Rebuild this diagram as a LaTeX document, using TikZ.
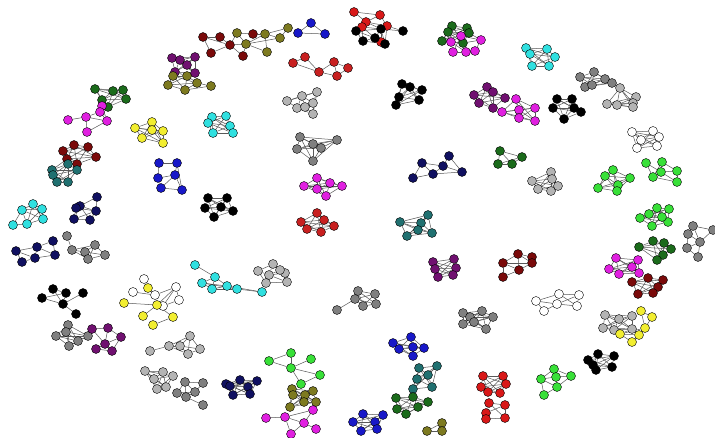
\documentclass[tikz,border=0pt]{standalone}
\usetikzlibrary{backgrounds}
\definecolor{cdr}{HTML}{7A0A0A}
\definecolor{col}{HTML}{7D7A20}
\definecolor{cpu}{HTML}{701070}
\definecolor{cmg}{HTML}{E020E0}
\definecolor{cdg}{HTML}{1B6B1B}
\definecolor{cye}{HTML}{F2EE30}
\definecolor{ccy}{HTML}{30E0E0}
\definecolor{cbl}{HTML}{1818C8}
\definecolor{cnv}{HTML}{101060}
\definecolor{crd}{HTML}{D81818}
\definecolor{cfb}{HTML}{C82020}
\definecolor{ctl}{HTML}{207070}
\definecolor{cgy}{HTML}{808080}
\definecolor{clg}{HTML}{B4B4B4}
\definecolor{clm}{HTML}{38E038}
\tikzset{vtx/.style={circle,draw=black,line width=0.4bp,minimum size=9bp,inner sep=0pt},
  edge/.style={draw=black!65,line width=0.5bp}}
\newcommand\clus[4][1]{\foreach[count=\k from #1] \a/\b in {#4}{\node[vtx,fill=#3] (#2-\k) at (\a,\b) {};}}
\newcommand\Kall[3]{\foreach \i in {#2,...,#3}{\foreach \j in {#2,...,#3}{\ifnum\i<\j\relax\draw[edge] (#1-\i) -- (#1-\j);\fi}}}
\newcommand\Ed[2]{\foreach \i/\j in {#2}{\draw[edge] (#1-\i) -- (#1-\j);}}
\begin{document}
\begin{tikzpicture}[x=1bp,y=-1bp]
\useasboundingbox (0,0) rectangle (715,438);
% nodes
\clus{a}{cdr}{203/37,220/37,230/45,211/53,253/34,243/56}
\clus[7]{a}{col}{237/33,246/44,265/34,267/52,280/38,288/28}
\clus{b}{cbl}{311/23,298/33,325/34}
\clus{c}{crd}{354/12,380/15,366/22,362/27,387/26,381/42}
\clus[7]{c}{black}{356/31,381/29,375/38,363/41,385/44,403/31}
\clus{d}{cdg}{452/26,467/28,448/32,442/41,463/43,469/33}
\clus[7]{d}{cmg}{451/42,461/36,453/52,466/52,481/40,475/51}
\clus{e}{ccy}{526/48,547/49,530/54,555/57,532/66,549/66}
\clus{f}{cpu}{172/58,180/60,195/57,187/65,175/72,195/73}
\clus[7]{f}{col}{173/76,187/76,197/83,168/85,185/90,211/86}
\clus{g}{cfb}{293/63,305/57,319/72,334/62,348/68,337/76}
\clus{h}{cgy}{580/77,594/72,605/79,612/83,585/87,592/85}
\clus{i}{cdg}{95/89,113/91,123/90,126/99,102/100,108/107}
\clus[7]{i}{cmg}{102/106,100/112,86/117,107/121,68/120,87/132}
\clus{j}{cye}{152/122,135/128,152/130,163/131,142/138,163/143}
\clus{k}{ccy}{212/117,226/116,208/123,230/126,213/133,233/133}
\clus{l}{clg}{287/101,302/96,317/92,313/103,297/108,313/114,305/107}
\clus{m}{black}{402/84,410/87,422/90,399/97,419/100,396/105}
\clus{n}{cpu}{487/87,493/92,474/95,505/98,479/103,493/108}
\clus{o}{cmg}{516/99,535/108,502/112,519/110,519/118,535/121}
\clus{p}{black}{557/99,572/99,553/108,574/108,581/112,564/119}
\clus{q}{clg}{620/88,636/97,633/103,607/104,617/105,633/107}
\clus{r}{white}{632/132,653/131,659/137,641/140,657/146,637/148}
\clus{s}{cdr}{63/151,74/145,88/147,96/157,67/159,77/164}
\clus[7]{s}{ctl}{52/170,53/175,68/164,77/170,57/182,68/182}
\clus{t}{cgy}{300/137,313/144,337/140,321/148,297/149,313/161}
\clus{u}{cbl}{159/163,177/163,175/175,158/178,161/188,182/190}
\clus{v}{black}{208/198,227/198,205/208,221/207,233/211,214/217}
\clus{w}{ccy}{33/204,22/210,42/209,43/219,27/224,13/225}
\clus{x}{cnv}{97/197,80/206,76/208,96/211,74/219,90/220}
\clus{y}{cnv}{16/251,37/247,53/241,55/255,35/258,22/262}
\clus{z}{cgy}{67/236,72/250,85/252,95/245,88/259,105/255}
\clus{aa}{ccy}{195/265,215/277,202/283,227/286,212/289,237/289,262/292}
\clus{ab}{cnv}{422/163,449/156,443/166,462/172,433/174,413/178}
\clus{ac}{cmg}{317/178,304/186,330/183,342/186,317/189,326/196}
\clus{ad}{cfb}{317/213,301/222,324/220,334/226,307/229,321/232}
\clus{ae}{ctl}{428/215,400/222,421/223,418/230,432/233,407/236}
\clus{af}{cpu}{433/262,454/259,435/269,456/268,438/277,453/275}
\clus{ag}{clg}{273/264,258/271,269/275,285/273,266/283,287/282,280/270}
\clus{ah}{cdg}{500/151,522/157,498/164,512/164}
\clus{ai}{clg}{551/172,532/181,552/179,538/189,551/191,558/186}
\clus{aj}{clm}{613/170,605/176,630/178,618/185,598/188,617/191}
\clus{ak}{clm}{646/163,662/162,661/172,677/171,653/177,677/182}
\clus{al}{clm}{657/208,669/209,649/214,640/218,668/222,652/226,662/217}
\clus{am}{cgy}{693/226,713/230,688/234,700/242,687/248,698/257}
\clus{an}{cdg}{653/241,664/243,639/247,671/249,663/255,657/260}
\clus{ao}{cmg}{616/258,638/260,609/269,632/267,619/274,639/273}
\clus{ap}{cdr}{503/263,518/254,532/257,532/263,519/270,503/277}
\clus{aq}{cdr}{632/282,648/278,663/280,658/287,638/294,653/293}
\clus{ar}{black}{53/289,66/293,83/293,42/298,63/304,76/314}
\clus{as}{white}{144/279,133/292,155/295,176/287,179/300,163/306}
\clus[7]{as}{cye}{148/288,124/303,157/305,143/316,173/317,153/325}
\clus{at}{cgy}{68/325,66/332,56/336,78/341,88/336,69/346}
\clus{au}{cpu}{92/329,108/328,121/337,105/344,96/349,112/351}
\clus{av}{clg}{150/351,169/346,180/346,190/336,200/349,188/354}
\clus{aw}{clg}{145/371,163/372,173/376,154/379,157/389,166/387}
\clus{ax}{cgy}{185/382,203/383,177/393,195/392,186/397,203/405}
\clus{ay}{cnv}{226/384,240/380,257/381,248/387,230/386,233/395,250/394}
\clus{az}{cgy}{358/291,375/294,355/299,363/306,376/304,337/310}
\clus{ba}{cgy}{463/313,470/317,463/324,482/311,493/317,474/322,486/329}
\clus{bb}{cbl}{393/343,411/337,399/349,413/347,424/348,413/356}
\clus{bc}{clm}{291/353,269/361,311/359,291/368,320/375,301/384}
\clus{bd}{col}{292/389,313/391,293/395,305/395,316/402,304/402,290/407}
\clus{be}{cmg}{266/418,285/417,313/410,304/423,316/429,291/434}
\clus{bf}{ctl}{419/368,437/366,428/375,417/379,432/387,413/389}
\clus{bg}{cdg}{396/398,413/397,428/402,397/409,406/414,418/407}
\clus{bh}{cbl}{363/414,383/415,353/422,375/422,377/429,361/431}
\clus{bi}{col}{427/431,442/423,442/431}
\clus{bj}{white}{536/301,559/294,579/295,557/304,544/311,577/306}
\clus{bk}{clg}{605/315,619/319,632/316,603/328,614/330,632/329}
\clus{bl}{cye}{641/311,652/317,645/328,620/334,639/335,632/342}
\clus{bm}{black}{598/354,614/356,588/360,593/365,612/367,596/370}
\clus{bn}{clm}{554/369,541/379,556/377,571/376,557/387,544/395}
\clus{bo}{crd}{483/376,503/376,506/384,481/387,488/392,500/393}
\clus{bp}{crd}{489/403,505/405,486/413,505/418,486/419}
% edges
\begin{pgfonlayer}{background}
\fill[white] (0,0) rectangle (715,438);
\Ed{a}{1/2,1/3,1/4,4/3,2/3,3/7,3/8,3/6,7/5,7/8,5/9,8/9,8/10,9/10,9/11,9/12,11/12,8/11,6/8}
\Ed{b}{1/2,1/3,2/3}
\Ed{c}{1/2,1/3,2/3,3/4,3/5,4/7,4/8,3/8,4/9,4/10,7/10,7/9,8/9,8/11,9/10,9/11,10/11,9/6,6/11,8/12,5/12,5/11,2/5,7/8,6/8}
\Kall{d}{1}{6}\Kall{d}{7}{10}
\Ed{d}{8/11,11/12,10/12,5/11,6/11,5/7,5/8,4/7,3/8}
\Kall{e}{1}{6}
\Kall{f}{1}{6}\Kall{f}{7}{11}
\Ed{f}{11/12,9/12,5/7,6/8,5/8,6/9}
\Ed{g}{1/2,2/3,1/3,3/4,3/6,4/5,6/5,4/6}
\Kall{h}{1}{6}
\Kall{i}{1}{6}
\Ed{i}{6/7,5/7,7/8,8/9,7/10,8/10,9/11,9/12,12/10,9/10,5/8}
\Kall{j}{1}{6}
\Kall{k}{1}{6}
\Ed{l}{1/2,2/3,3/4,4/6,6/5,5/1,2/4,2/5,3/6,7/2,7/4,7/5,7/6,1/3}
\Kall{m}{1}{6}
\Kall{n}{1}{6}
\Kall{o}{1}{6}
\Kall{p}{1}{6}
\Kall{q}{1}{6}
\Kall{r}{1}{6}
\Kall{s}{1}{6}\Kall{s}{7}{12}
\Ed{s}{5/9,6/10,5/7}
\Kall{t}{1}{6}
\Ed{u}{1/2,1/4,2/3,3/4,3/5,3/6,5/6,2/6,4/5}
\Kall{v}{1}{6}
\Ed{w}{1/2,1/3,2/3,2/4,2/5,2/6,3/4,4/5,5/6,1/5,1/4,3/5}
\Ed{x}{1/2,1/4,2/3,2/4,2/5,3/5,4/5,4/6,5/6,2/6,3/4}
\Ed{y}{1/2,1/5,1/6,2/4,2/5,2/3,3/4,4/5,5/6}
\Ed{z}{1/2,2/3,2/4,3/4,3/5,4/5,4/6,5/6,2/5,3/6}
\Ed{aa}{1/2,2/3,2/4,3/4,3/5,4/5,4/6,5/6,6/7,2/5,3/6,4/7}
\Ed{ab}{1/6,1/5,1/3,3/5,2/3,2/4,3/4,4/5,5/6}
\Kall{ac}{1}{6}
\Kall{ad}{1}{6}
\Kall{ae}{1}{6}
\Kall{af}{1}{6}
\Ed{ag}{1/2,1/4,1/7,1/3,2/3,2/5,3/4,3/5,3/6,4/6,5/6,7/4,7/3,7/6}
\Kall{ah}{1}{4}
\Kall{ai}{1}{6}
\Kall{aj}{1}{6}
\Ed{ak}{1/3,2/3,2/4,3/4,3/5,3/6,4/6,5/6,2/5,1/5}
\Kall{al}{1}{7}
\Ed{am}{1/2,1/3,3/4,4/2,3/5,5/4,4/6,5/6,1/4}
\Kall{an}{1}{6}
\Kall{ao}{1}{6}
\Ed{ap}{1/2,1/4,1/5,1/6,2/3,2/4,2/5,3/4,4/5,5/6}
\Kall{aq}{1}{6}
\Ed{ar}{4/5,1/5,2/5,3/5,5/6,4/2,1/2}
\Ed{as}{1/7,2/3,7/3,3/9,3/4,4/5,4/6,5/6,6/9,8/9,9/10,9/11,11/12,4/9}
\Kall{at}{1}{6}
\Ed{au}{1/2,2/3,2/4,3/4,4/5,4/6,5/6,3/6,1/4}
\draw[edge] (at-5) -- (au-1);
\Ed{av}{1/2,2/3,2/4,3/4,3/5,4/5,3/6,5/6,4/6,2/6}
\Kall{aw}{1}{6}
\Ed{ax}{1/2,1/3,1/4,1/5,2/4,3/4,3/5,4/5,5/6}
\Kall{ay}{1}{7}
\Kall{az}{1}{5}
\Ed{az}{6/3}
\Kall{ba}{1}{7}
\Kall{bb}{1}{6}
\Ed{bc}{1/4,2/4,2/1,3/4,4/5,4/6,5/6}
\Kall{bd}{1}{7}
\Ed{be}{1/2,2/3,2/4,3/4,4/5,4/6,2/6}
\Kall{bf}{1}{6}
\Kall{bg}{1}{6}
\Kall{bh}{1}{6}
\Ed{bi}{1/2,1/3,2/3}
\Ed{bj}{1/2,1/4,1/5,2/3,2/4,2/6,3/6,4/6,5/4,4/3}
\Kall{bk}{1}{6}
\Ed{bl}{1/2,1/3,2/3,3/5,4/5,4/6,5/6,3/4}
\draw[edge] (bk-6) -- (bl-4);
\Kall{bm}{1}{6}
\Ed{bn}{1/2,1/3,1/4,2/3,3/4,3/5,2/5,4/5,2/6,5/6}
\Kall{bo}{1}{6}
\Ed{bp}{1/2,1/3,2/4,3/5,4/5,1/4,2/3}
\end{pgfonlayer}
\end{tikzpicture}
\end{document}
